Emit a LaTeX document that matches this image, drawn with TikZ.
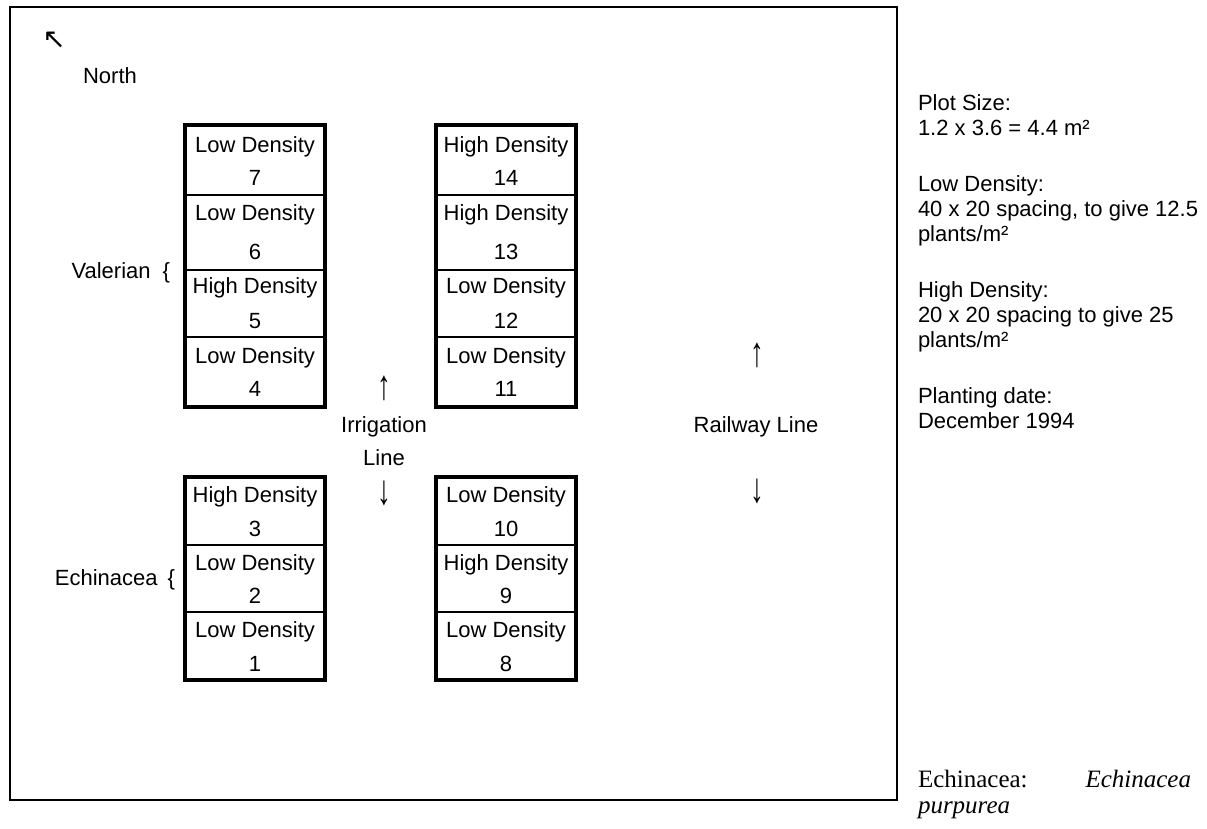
\documentclass[tikz,border=0pt]{standalone}
\usepackage{fontspec}
\setmainfont{Liberation Sans}
\newfontfamily\serifrm{Liberation Serif}
\newfontfamily\symfont{DejaVu Sans}
\newcommand{\tallup}{\scalebox{1.25}[1.9]{↑}}
\newcommand{\talldn}{\scalebox{1.25}[1.9]{↓}}
\begin{document}
\begin{tikzpicture}[x=1pt,y=-1pt,
  every node/.style={inner sep=0pt,outer sep=0pt,font=\fontsize{22}{25}\selectfont},
  cell/.style={draw,line width=2.4pt,minimum width=140pt,anchor=north west},
  lbl/.style={anchor=base},
  side/.style={anchor=base west},
  frame/.style={line width=2.4pt},
  block/.style={line width=3.6pt},
  sernote/.style={font=\serifrm\fontsize{25}{28}\selectfont},
  serit/.style={font=\serifrm\itshape\fontsize{25}{28}\selectfont}]
\useasboundingbox (0,0) rectangle (1207,828);
\draw[frame] (10,7) rectangle (897,800);
% north
\node (narrow) at (54,40) {\symfont\fontsize{28}{28}\selectfont ↖};
\node[lbl] (north) at (110,83) {North};
% left upper column
\node[cell,minimum height=70pt] (c7) at (185,125) {};
\node[cell,minimum height=75pt] (c6) at (185,195) {};
\node[cell,minimum height=67pt] (c5) at (185,270) {};
\node[cell,minimum height=70pt] (c4) at (185,337) {};
\draw[block] (c7.north west) rectangle (c4.south east);
\node[lbl] (t7a) at (255,152) {Low Density};
\node[lbl] (t7b) at (255,185) {7};
\node[lbl] (t6a) at (255,220) {Low Density};
\node[lbl] (t6b) at (255,259) {6};
\node[lbl] (t5a) at (255,293) {High Density};
\node[lbl] (t5b) at (255,328) {5};
\node[lbl] (t4a) at (255,363) {Low Density};
\node[lbl] (t4b) at (255,396) {4};
% right upper column
\node[cell,minimum height=70pt] (c14) at (436,125) {};
\node[cell,minimum height=75pt] (c13) at (436,195) {};
\node[cell,minimum height=67pt] (c12) at (436,270) {};
\node[cell,minimum height=70pt] (c11) at (436,337) {};
\draw[block] (c14.north west) rectangle (c11.south east);
\node[lbl] (t14a) at (506,152) {High Density};
\node[lbl] (t14b) at (506,185) {14};
\node[lbl] (t13a) at (506,220) {High Density};
\node[lbl] (t13b) at (506,259) {13};
\node[lbl] (t12a) at (506,293) {Low Density};
\node[lbl] (t12b) at (506,328) {12};
\node[lbl] (t11a) at (506,363) {Low Density};
\node[lbl] (t11b) at (506,396) {11};
% left lower column
\node[cell,minimum height=68pt] (c3) at (185,477) {};
\node[cell,minimum height=67pt] (c2) at (185,545) {};
\node[cell,minimum height=68pt] (c1) at (185,612) {};
\draw[block] (c3.north west) rectangle (c1.south east);
\node[lbl] (t3a) at (255,502) {High Density};
\node[lbl] (t3b) at (255,536) {3};
\node[lbl] (t2a) at (255,570) {Low Density};
\node[lbl] (t2b) at (255,603) {2};
\node[lbl] (t1a) at (255,637) {Low Density};
\node[lbl] (t1b) at (255,671) {1};
% right lower column
\node[cell,minimum height=68pt] (c10) at (436,477) {};
\node[cell,minimum height=67pt] (c9) at (436,545) {};
\node[cell,minimum height=68pt] (c8) at (436,612) {};
\draw[block] (c10.north west) rectangle (c8.south east);
\node[lbl] (t10a) at (506,502) {Low Density};
\node[lbl] (t10b) at (506,536) {10};
\node[lbl] (t9a) at (506,570) {High Density};
\node[lbl] (t9b) at (506,603) {9};
\node[lbl] (t8a) at (506,637) {Low Density};
\node[lbl] (t8b) at (506,671) {8};
% group labels
\node[anchor=base east] (val) at (170,278) {Valerian\hspace{12pt}\{};
\node[anchor=base east] (ech) at (175,585) {Echinacea\hspace{10pt}\{};
% irrigation
\node (iup) at (384,388) {\tallup};
\node[lbl] (irr1) at (384,432) {Irrigation};
\node[lbl] (irr2) at (384,465) {Line};
\node (idn) at (384,493) {\talldn};
% railway
\node (rup) at (757,355) {\tallup};
\node[lbl] (rail) at (756,432) {Railway Line};
\node (rdn) at (757,491) {\talldn};
% notes
\node[side] (n1) at (918,110) {Plot Size:};
\node[side] (n2) at (918,135) {1.2 x 3.6 = 4.4 m²};
\node[side] (n3) at (918,191) {Low Density:};
\node[side] (n4) at (918,216) {40 x 20 spacing, to give 12.5};
\node[side] (n5) at (918,241) {plants/m²};
\node[side] (n6) at (918,297) {High Density:};
\node[side] (n7) at (918,322) {20 x 20 spacing to give 25};
\node[side] (n8) at (918,347) {plants/m²};
\node[side] (n9) at (918,403) {Planting date:};
\node[side] (n10) at (918,428) {December 1994};
\node[side,sernote] (e1) at (918,787) {Echinacea:};
\node[anchor=base east,serit] (e2) at (1191,787) {Echinacea};
\node[side,serit] (e3) at (918,813) {purpurea};
\end{tikzpicture}
\end{document}
